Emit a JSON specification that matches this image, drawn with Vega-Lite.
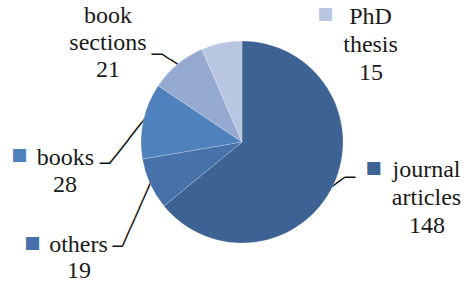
{
  "$schema": "https://vega.github.io/schema/vega-lite/v6.json",
  "width": 448,
  "height": 284,
  "autosize": "none",
  "padding": {"left": 18, "top": 0, "right": 0, "bottom": 1},
  "background": "white",
  "view": {"stroke": null},
  "data": {
    "values": [
      {"type": "journal articles", "value": 148, "seq": 1},
      {"type": "others", "value": 19, "seq": 2},
      {"type": "books", "value": 28, "seq": 3},
      {"type": "book sections", "value": 21, "seq": 4},
      {"type": "PhD thesis", "value": 15, "seq": 5}
    ]
  },
  "encoding": {
    "theta": {"field": "value", "type": "quantitative", "stack": true},
    "order": {"field": "seq", "type": "quantitative"},
    "detail": {"field": "type", "type": "nominal"}
  },
  "layer": [
    {"mark": {"type": "text", "font": "DejaVu Sans Mono", "fontSize": 17, "radius": 101, "align": "right", "baseline": "middle", "angle": 325, "dx": 14.3, "dy": 1, "color": "#111"},
     "encoding": {"text": {"condition": {"test": "datum.type === 'journal articles'", "value": "──"}, "value": ""}}},
    {"mark": {"type": "text", "font": "DejaVu Sans Mono", "fontSize": 17, "radius": 101, "align": "left", "baseline": "middle", "dx": 11.7, "dy": -7.2, "color": "#111"},
     "encoding": {"text": {"condition": {"test": "datum.type === 'journal articles'", "value": "─"}, "value": ""}}},
    {"mark": {"type": "text", "font": "DejaVu Sans Mono", "fontSize": 17, "radius": 101, "align": "right", "baseline": "middle", "angle": 113.9, "dx": 67.5, "dy": 1, "color": "#111"},
     "encoding": {"text": {"condition": {"test": "datum.type === 'others'", "value": "───────"}, "value": ""}}},
    {"mark": {"type": "text", "font": "DejaVu Sans Mono", "fontSize": 17, "radius": 101, "align": "right", "baseline": "middle", "dx": -27.4, "dy": 62.7, "color": "#111"},
     "encoding": {"text": {"condition": {"test": "datum.type === 'others'", "value": "─"}, "value": ""}}},
    {"mark": {"type": "text", "font": "DejaVu Sans Mono", "fontSize": 17, "radius": 101, "align": "right", "baseline": "middle", "angle": 128.1, "dx": 53.9, "dy": 1, "color": "#111"},
     "encoding": {"text": {"condition": {"test": "datum.type === 'books'", "value": "──────"}, "value": ""}}},
    {"mark": {"type": "text", "font": "DejaVu Sans Mono", "fontSize": 17, "radius": 101, "align": "right", "baseline": "middle", "dx": -33.2, "dy": 43.4, "color": "#111"},
     "encoding": {"text": {"condition": {"test": "datum.type === 'books'", "value": "─"}, "value": ""}}},
    {"mark": {"type": "text", "font": "DejaVu Sans Mono", "fontSize": 17, "radius": 101, "align": "right", "baseline": "middle", "angle": 213.3, "dx": 18.8, "dy": 1, "color": "#111"},
     "encoding": {"text": {"condition": {"test": "datum.type === 'book sections'", "value": "──"}, "value": ""}}},
    {"mark": {"type": "text", "font": "DejaVu Sans Mono", "fontSize": 17, "radius": 101, "align": "right", "baseline": "middle", "dx": -15.7, "dy": -9.3, "color": "#111"},
     "encoding": {"text": {"condition": {"test": "datum.type === 'book sections'", "value": "─"}, "value": ""}}},
    {"mark": {"type": "arc", "radius": 101, "stroke": "white", "strokeWidth": 0.4, "strokeOpacity": 0.5},
     "encoding": {"color": {"field": "type", "type": "nominal", "legend": null,
       "scale": {"domain": ["journal articles", "others", "books", "book sections", "PhD thesis"],
                 "range": ["#3D6394", "#4771A9", "#4F81BD", "#95A9D1", "#B9C6E1"]}}}},
    {"mark": {"type": "text", "font": "Liberation Serif", "fontSize": 24, "lineHeight": 28, "lineBreak": " ", "radius": 101, "align": "center", "baseline": "alphabetic", "dx": 93.2, "dy": -8.2, "color": "#1a1a1a"},
     "encoding": {"text": {"condition": {"test": "datum.type === 'journal articles'", "field": "type"}, "value": ""}}},
    {"mark": {"type": "text", "font": "Liberation Serif", "fontSize": 24, "radius": 101, "align": "center", "baseline": "alphabetic", "dx": 93.7, "dy": 47.8, "color": "#1a1a1a"},
     "encoding": {"text": {"condition": {"test": "datum.type === 'journal articles'", "field": "value", "type": "nominal"}, "value": ""}}},
    {"mark": {"type": "text", "font": "Liberation Serif", "fontSize": 24, "lineHeight": 28, "lineBreak": " ", "radius": 101, "align": "center", "baseline": "alphabetic", "dx": 149, "dy": -19.1, "color": "#1a1a1a"},
     "encoding": {"text": {"condition": {"test": "datum.type === 'PhD thesis'", "field": "type"}, "value": ""}}},
    {"mark": {"type": "text", "font": "Liberation Serif", "fontSize": 24, "radius": 101, "align": "center", "baseline": "alphabetic", "dx": 149.5, "dy": 36.9, "color": "#1a1a1a"},
     "encoding": {"text": {"condition": {"test": "datum.type === 'PhD thesis'", "field": "value", "type": "nominal"}, "value": ""}}},
    {"mark": {"type": "text", "font": "Liberation Serif", "fontSize": 24, "lineHeight": 27.3, "lineBreak": " ", "radius": 101, "align": "center", "baseline": "alphabetic", "dx": -69.4, "dy": -41.6, "color": "#1a1a1a"},
     "encoding": {"text": {"condition": {"test": "datum.type === 'book sections'", "field": "type"}, "value": ""}}},
    {"mark": {"type": "text", "font": "Liberation Serif", "fontSize": 24, "radius": 101, "align": "center", "baseline": "alphabetic", "dx": -69.4, "dy": 13.0, "color": "#1a1a1a"},
     "encoding": {"text": {"condition": {"test": "datum.type === 'book sections'", "field": "value", "type": "nominal"}, "value": ""}}},
    {"mark": {"type": "text", "font": "Liberation Serif", "fontSize": 24, "radius": 101, "align": "center", "baseline": "alphabetic", "dx": -77.7, "dy": 44.1, "color": "#1a1a1a"},
     "encoding": {"text": {"condition": {"test": "datum.type === 'books'", "field": "type"}, "value": ""}}},
    {"mark": {"type": "text", "font": "Liberation Serif", "fontSize": 24, "radius": 101, "align": "center", "baseline": "alphabetic", "dx": -78.2, "dy": 70.8, "color": "#1a1a1a"},
     "encoding": {"text": {"condition": {"test": "datum.type === 'books'", "field": "value", "type": "nominal"}, "value": ""}}},
    {"mark": {"type": "text", "font": "Liberation Serif", "fontSize": 24, "radius": 101, "align": "center", "baseline": "alphabetic", "dx": -71.6, "dy": 67.7, "color": "#1a1a1a"},
     "encoding": {"text": {"condition": {"test": "datum.type === 'others'", "field": "type"}, "value": ""}}},
    {"mark": {"type": "text", "font": "Liberation Serif", "fontSize": 24, "radius": 101, "align": "center", "baseline": "alphabetic", "dx": -71.1, "dy": 94.3, "color": "#1a1a1a"},
     "encoding": {"text": {"condition": {"test": "datum.type === 'others'", "field": "value", "type": "nominal"}, "value": ""}}},
    {"mark": {"type": "text", "font": "DejaVu Sans", "fontSize": 17, "radius": 101, "align": "center", "baseline": "middle", "dx": 40.2, "dy": -17.7},
     "encoding": {"text": {"condition": {"test": "datum.type === 'journal articles'", "value": "■"}, "value": ""},
                  "color": {"field": "type", "type": "nominal", "legend": null}}},
    {"mark": {"type": "text", "font": "DejaVu Sans", "fontSize": 17, "radius": 101, "align": "center", "baseline": "middle", "dx": 103.8, "dy": -28.6},
     "encoding": {"text": {"condition": {"test": "datum.type === 'PhD thesis'", "value": "■"}, "value": ""},
                  "color": {"field": "type", "type": "nominal", "legend": null}}},
    {"mark": {"type": "text", "font": "DejaVu Sans", "fontSize": 17, "radius": 101, "align": "center", "baseline": "middle", "dx": -123.9, "dy": 34.1},
     "encoding": {"text": {"condition": {"test": "datum.type === 'books'", "value": "■"}, "value": ""},
                  "color": {"field": "type", "type": "nominal", "legend": null}}},
    {"mark": {"type": "text", "font": "DejaVu Sans", "fontSize": 17, "radius": 101, "align": "center", "baseline": "middle", "dx": -117.9, "dy": 58.8},
     "encoding": {"text": {"condition": {"test": "datum.type === 'others'", "value": "■"}, "value": ""},
                  "color": {"field": "type", "type": "nominal", "legend": null}}}
  ]
}
